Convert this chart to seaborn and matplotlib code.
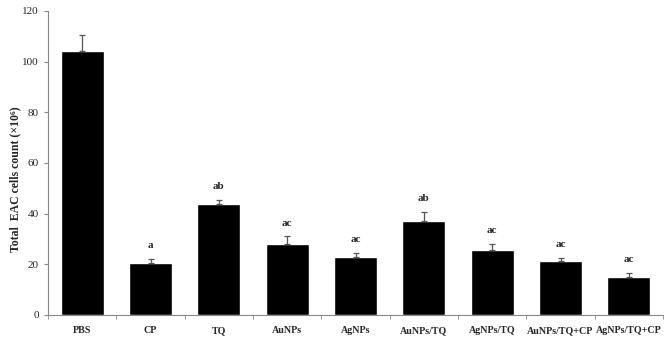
import numpy as np
import pandas as pd
import matplotlib
matplotlib.use('Agg')
import matplotlib.pyplot as plt
import seaborn as sns

# data
groups = ['PBS', 'CP', 'TQ', 'AuNPs', 'AgNPs', 'AuNPs/TQ', 'AgNPs/TQ',
          'AuNPs/TQ+CP', 'AgNPs/TQ+CP']
means = [104.1, 20.6, 44.0, 28.0, 22.8, 37.0, 25.6, 21.2, 15.1]
errors = [6.3, 1.5, 1.5, 3.0, 1.6, 3.7, 2.6, 1.2, 1.6]
letters = ['', 'a', 'ab', 'ac', 'ac', 'ab', 'ac', 'ac', 'ac']

sns.set_style('white')
plt.rcParams['font.family'] = ['Liberation Serif', 'DejaVu Serif']

df = pd.DataFrame({'group': groups, 'count': means})

fig = plt.figure(figsize=(6.69, 3.43), dpi=100)
ax = fig.add_axes([48 / 669, 28 / 343, 615 / 669, 304 / 343])

sns.barplot(data=df, x='group', y='count', color='black', width=0.63,
            saturation=1, ax=ax)

x = np.arange(len(groups))
ax.errorbar(x, means, yerr=[np.zeros(len(errors)), errors], fmt='none',
            ecolor='#555555', elinewidth=0.9, capsize=2.5, capthick=0.9)

for xi, m, e, lab in zip(x, means, errors, letters):
    if lab:
        ax.text(xi, m + e + 3.5, lab, ha='center', va='bottom',
                fontsize=8, fontweight='bold')

ax.set_ylim(0, 120)
ax.set_xlim(-0.5, len(groups) - 0.5)
ax.set_yticks(range(0, 121, 20))
ax.set_xlabel('')
ax.set_ylabel('Total  EAC cells count (×10⁶)', fontsize=8.5,
              fontweight='bold')
ax.yaxis.set_label_coords(-0.044, 0.447)

ax.tick_params(axis='y', labelsize=8, length=3, color='#888888',
               direction='out', left=True)
ax.tick_params(axis='x', which='major', length=0, labelsize=7.2, pad=8)
ax.set_xticks(np.arange(-0.5, len(groups), 1.0), minor=True)
ax.tick_params(axis='x', which='minor', length=3, color='#888888',
               direction='out', bottom=True)
for t in ax.get_xticklabels():
    t.set_fontweight('bold')

for s in ['top', 'right']:
    ax.spines[s].set_visible(False)
for s in ['left', 'bottom']:
    ax.spines[s].set_color('#888888')
    ax.spines[s].set_linewidth(0.8)

fig.savefig('out.png', dpi=100)
